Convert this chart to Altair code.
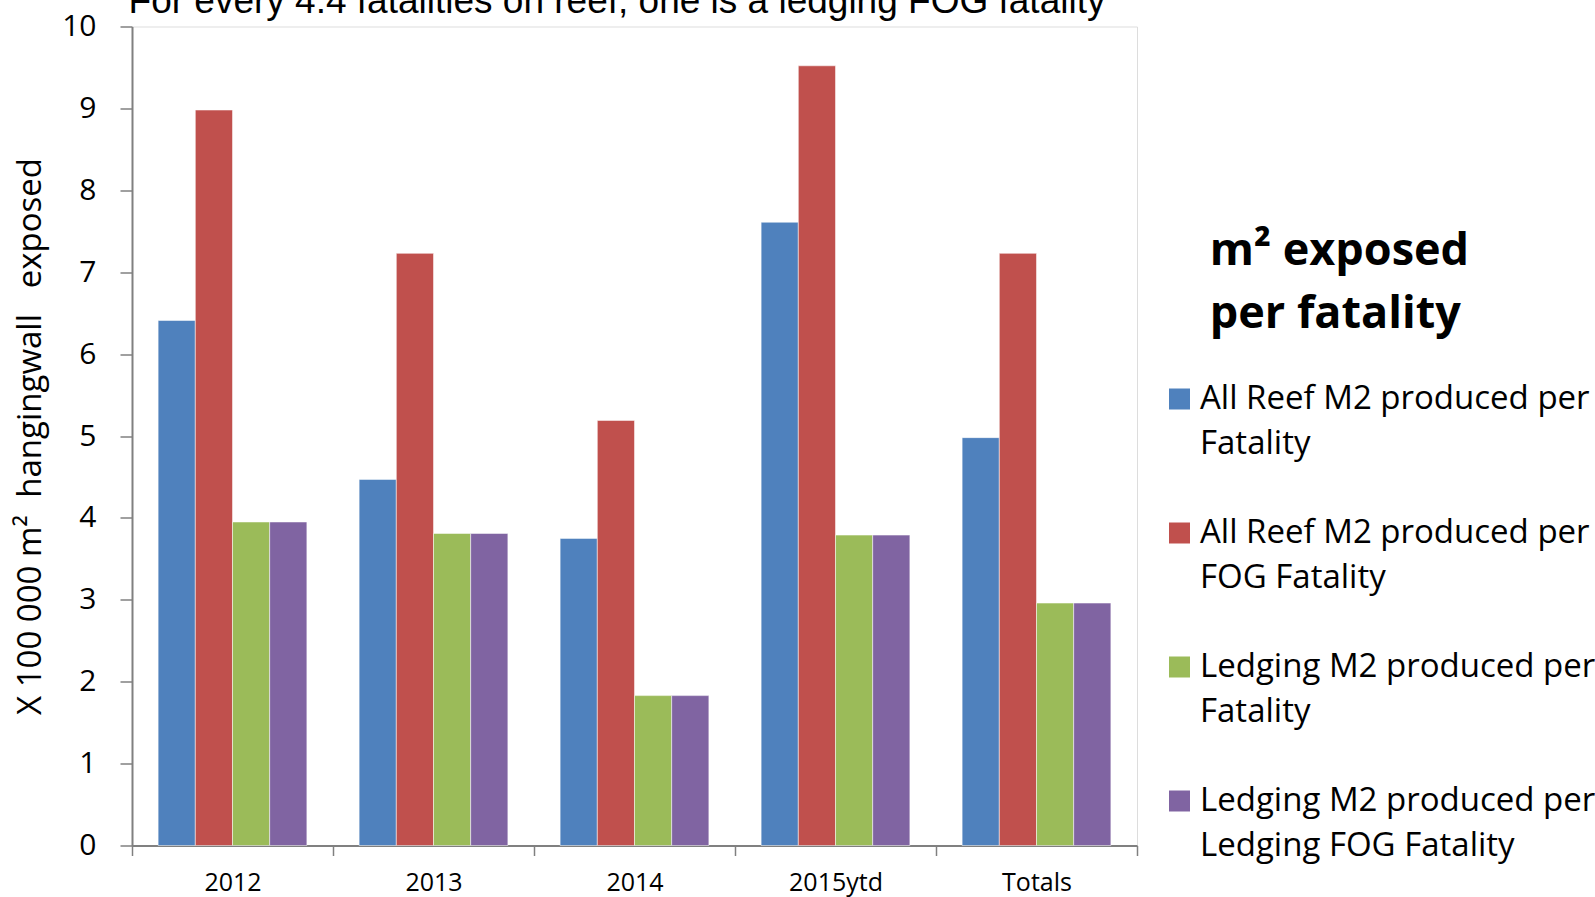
import altair as alt
import pandas as pd

categories = ["2012", "2013", "2014", "2015ytd", "Totals"]
series = [
    "All Reef M2 produced per Fatality",
    "All Reef M2 produced per FOG Fatality",
    "Ledging M2 produced per Fatality",
    "Ledging M2 produced per Ledging FOG Fatality",
]
all_reef_per_fatality = [6.41, 4.47, 3.75, 7.61, 4.98]
all_reef_per_fog_fatality = [8.98, 7.23, 5.19, 9.52, 7.23]
ledging_per_fatality = [3.95, 3.81, 1.83, 3.79, 2.96]
ledging_per_ledging_fog_fatality = [3.95, 3.81, 1.83, 3.79, 2.96]
colors = ["#4F81BD", "#C0504D", "#9BBB59", "#8064A2"]
y_ticks = [0, 1, 2, 3, 4, 5, 6, 7, 8, 9, 10]

values = [all_reef_per_fatality, all_reef_per_fog_fatality,
          ledging_per_fatality, ledging_per_ledging_fog_fatality]
rows = []
for s, vals in zip(series, values):
    for c, v in zip(categories, vals):
        rows.append({"category": c, "series": s, "value": v})
df = pd.DataFrame(rows)

NB = "\u00a0"
ZW = "\u200b"
y_title = "X 100 000 m²" + NB * 2 + "hangingwall" + NB * 3 + "exposed"
indent = ZW + NB * 4
legend_title = [indent + "m² exposed", indent + "per fatality"]
label_expr = ("[slice(datum.label, 0, indexof(datum.label, ' per ') + 4), "
              "slice(datum.label, indexof(datum.label, ' per ') + 5)]")

GRAY = "#808080"

chart = alt.Chart(df).mark_bar(stroke="white", strokeWidth=1, strokeOpacity=0.5).encode(
    x=alt.X("category:N", sort=categories,
            scale=alt.Scale(paddingInner=0, paddingOuter=0),
            axis=alt.Axis(title=None, labelAngle=0, tickBand="extent",
                          domainColor=GRAY, domainWidth=2, tickColor=GRAY, tickWidth=1.5,
                          tickSize=10, labelFont="Open Sans", labelFontSize=25,
                          labelColor="black", labelPadding=15)),
    xOffset=alt.XOffset("series:N", sort=series,
                        scale=alt.Scale(paddingInner=0, paddingOuter=0.7027)),
    y=alt.Y("value:Q", scale=alt.Scale(domain=[0, 10], nice=False),
            axis=alt.Axis(values=y_ticks, title=y_title, grid=False,
                          domainColor=GRAY, domainWidth=2, tickColor=GRAY, tickWidth=1.5,
                          tickSize=12, labelFont="Open Sans", labelFontSize=30,
                          labelColor="black", labelPadding=24,
                          titleFont="Open Sans", titleFontSize=33, titleFontWeight="normal",
                          titleColor="black", titlePadding=14)),
    color=alt.Color("series:N", sort=series,
                    scale=alt.Scale(domain=series, range=colors),
                    legend=alt.Legend(
                        title=legend_title, orient="none", legendX=1031, legendY=202,
                        titleFont="Open Sans", titleFontSize=45, titleFontWeight="bold",
                        titleColor="black", titleLineHeight=63, titlePadding=46,
                        titleLimit=700, titleAnchor="start",
                        labelExpr=label_expr, labelFont="Open Sans", labelFontSize=33,
                        labelColor="black", labelLimit=700, labelOffset=4,
                        symbolType="square", symbolSize=441, symbolStrokeWidth=0,
                        symbolOpacity=1, rowPadding=55, padding=0)),
).properties(
    width=1005,
    height=819,
    padding={"left": 132, "top": 26.5, "right": 458, "bottom": 51.5},
    autosize=alt.AutoSizeParams(type="none"),
    title=alt.TitleParams(
        text="For every 4.4 fatalities on reef, one is a ledging FOG fatality",
        font="Liberation Sans", fontSize=37, fontWeight="normal", color="black",
        anchor="middle", frame="group", dx=-17.5, offset=-38, baseline="alphabetic"),
).configure_view(
    stroke=GRAY, strokeWidth=2
).configure(
    background="white",
    style={"guide-label": {"lineHeight": 45}},
)

chart.save("out.html", embed_options={"renderer": "svg", "actions": False})
